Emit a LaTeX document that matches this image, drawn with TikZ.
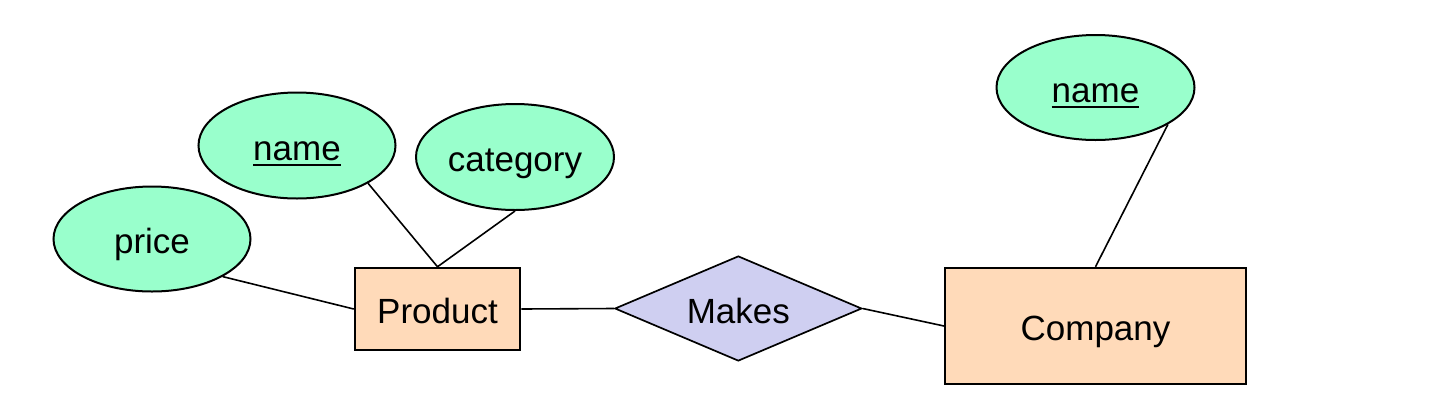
\documentclass[tikz,border=0pt]{standalone}
\usepackage{fontspec}
\setmainfont{Liberation Sans}
\usetikzlibrary{shapes.geometric}
\definecolor{attrgreen}{HTML}{99FFCC}
\definecolor{entpeach}{HTML}{FFDAB9}
\definecolor{rellav}{HTML}{CFCFF1}
\newcommand\keyul[1]{\setbox0\hbox{#1}\rlap{\rule[-6pt]{\wd0}{2.2pt}}\box0}
\tikzset{
  base/.style={draw=black, line width=2pt, inner sep=0pt, text height=29.5pt, text depth=0pt,
    font=\fontsize{35}{40}\selectfont},
  attr/.style={base, ellipse, fill=attrgreen},
  entity/.style={base, rectangle, fill=entpeach},
  rel/.style={base, diamond, aspect=2.35, line width=1.7pt, fill=rellav},
  conn/.style={draw=black, line width=1.6pt}
}
\begin{document}
\begin{tikzpicture}[x=1pt,y=-1pt]
\useasboundingbox (0,0) rectangle (1456,416);
\node[attr, minimum width=197pt, minimum height=105pt] (price) at (152,239) {price};
\node[attr, minimum width=197pt, minimum height=106pt] (pname) at (297,145.5) {\keyul{name}};
\node[attr, minimum width=198pt, minimum height=106pt] (category) at (515,157) {category};
\node[entity, minimum width=165.5pt, minimum height=82.5pt] (product) at (437.5,309) {Product};
\node[rel, minimum width=247pt, minimum height=105pt] (makes) at (738.3,308.5) {Makes};
\node[entity, minimum width=301pt, minimum height=116.5pt] (company) at (1095.5,326) {Company};
\node[attr, minimum width=198pt, minimum height=105pt] (cname) at (1095.5,87.5) {\keyul{name}};
\draw[conn] (price.-28) -- (product.west);
\draw[conn] (pname.-28) -- (product.north);
\draw[conn] (category.south) -- (product.north);
\draw[conn] (product.east) -- (makes.west);
\draw[conn] (makes.east) -- (company.west);
\draw[conn] (cname.-27) -- (company.north);
\end{tikzpicture}
\end{document}
